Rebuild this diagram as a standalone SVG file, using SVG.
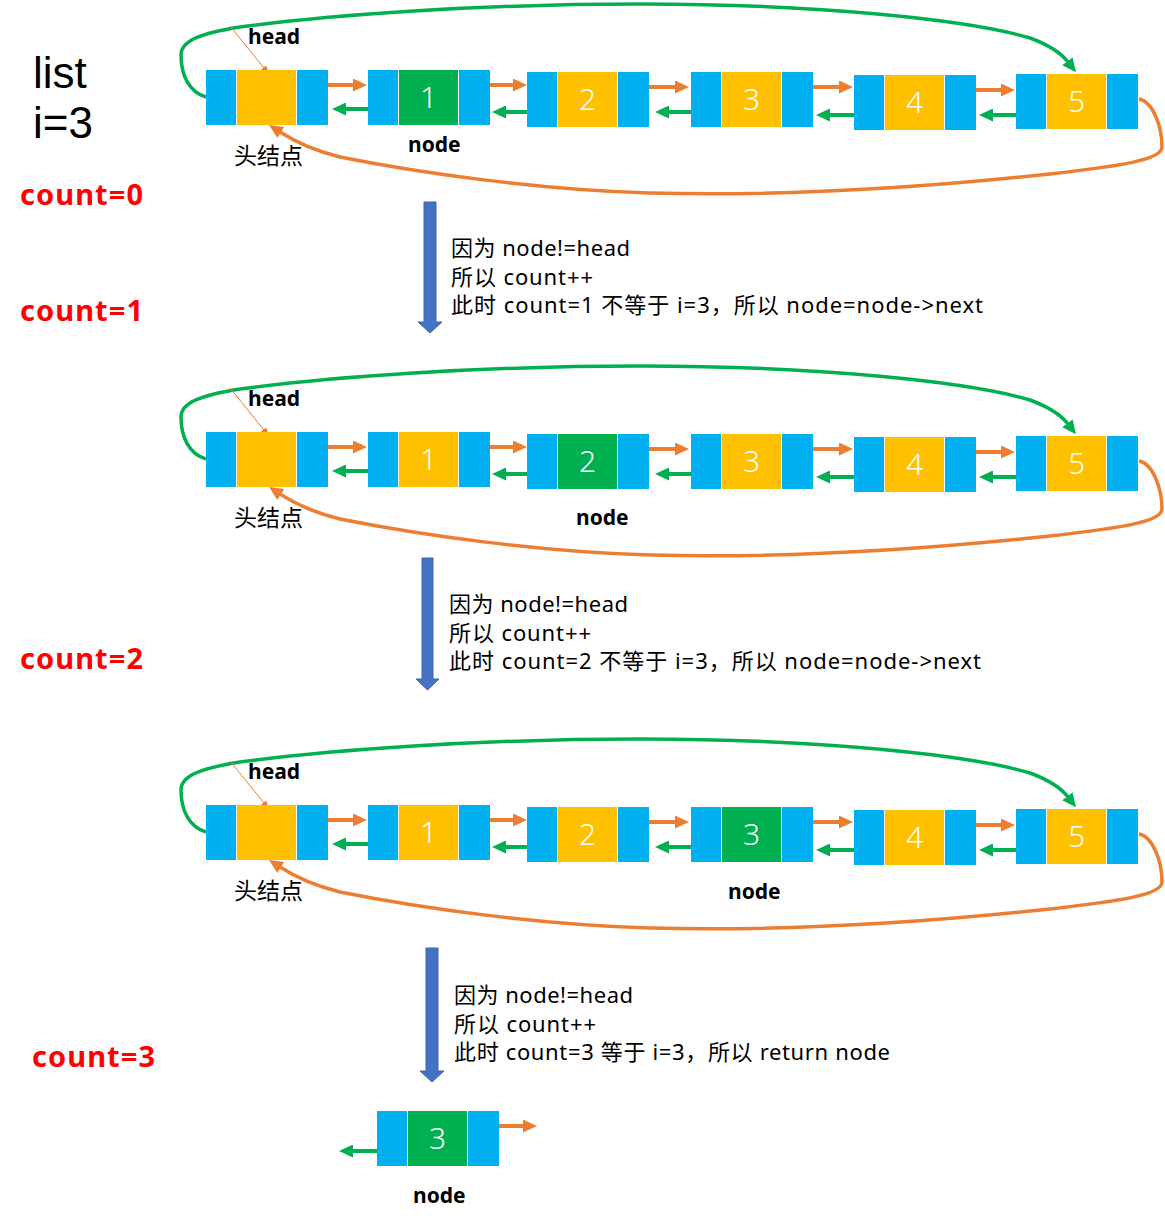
<svg xmlns="http://www.w3.org/2000/svg" xmlns:xlink="http://www.w3.org/1999/xlink" width="1165" height="1225" viewBox="0 0 1165 1225">
<style>
.blue{fill:#00B0F0}
.yel{fill:#FFC000}
.grn{fill:#00B050}
.num{font-family:'Noto Sans','Liberation Sans',sans-serif;font-size:30px;font-weight:300;fill:#fff;text-anchor:middle}
.lbl{font-family:'Noto Sans','Liberation Sans',sans-serif;font-weight:bold;font-size:21px;fill:#000}
.cjk{font-family:'Noto Sans CJK SC',sans-serif;font-size:23px;fill:#000}
.cnt{font-family:'Noto Sans','Liberation Sans',sans-serif;font-weight:bold;font-size:29px;fill:#FF0000}
.big{font-family:'Liberation Sans',sans-serif;font-size:44px;fill:#000}
.body{font-family:'Noto Sans','Noto Sans CJK SC',sans-serif;font-size:22px;fill:#000}
.lo{stroke:#ED7D31;stroke-width:4;fill:none;marker-end:url(#ao)}
.lg{stroke:#00B050;stroke-width:4;fill:none;marker-end:url(#ag)}
.loopg{stroke:#00B050;stroke-width:3.5;fill:none;marker-end:url(#ag)}
.loopo{stroke:#ED7D31;stroke-width:3.5;fill:none;marker-end:url(#ao)}
.ptr{stroke:#ED7D31;stroke-width:1;fill:none;marker-end:url(#ap)}
.down{fill:#4472C4;stroke:#3A64B0;stroke-width:1}
</style>
<defs>
<marker id="ao" viewBox="0 0 14 13" refX="1" refY="6.5" markerWidth="14" markerHeight="13" markerUnits="userSpaceOnUse" orient="auto"><path d="M0,0 L14,6.5 L0,13 Z" fill="#ED7D31"/></marker>
<marker id="ag" viewBox="0 0 14 13" refX="1" refY="6.5" markerWidth="14" markerHeight="13" markerUnits="userSpaceOnUse" orient="auto"><path d="M0,0 L14,6.5 L0,13 Z" fill="#00B050"/></marker>
<marker id="ap" viewBox="0 0 8 7" refX="7" refY="3.5" markerWidth="8" markerHeight="7" markerUnits="userSpaceOnUse" orient="auto"><path d="M0,0 L8,3.5 L0,7 Z" fill="#ED7D31"/></marker>
<g id="cellsY"><rect class="blue" x="0" y="0" width="30" height="55"/><rect class="yel" x="31" y="0" width="59" height="55"/><rect class="blue" x="91" y="0" width="31" height="55"/></g>
<g id="cellsG"><rect class="blue" x="0" y="0" width="30" height="55"/><rect class="grn" x="31" y="0" width="59" height="55"/><rect class="blue" x="91" y="0" width="31" height="55"/></g>
<g id="links">
<line class="lo" x1="299" y1="85" x2="354" y2="85"/>
<line class="lo" x1="461" y1="85" x2="514" y2="85"/>
<line class="lo" x1="621" y1="87" x2="676" y2="87"/>
<line class="lo" x1="785" y1="87" x2="840" y2="87"/>
<line class="lo" x1="947" y1="90" x2="1002" y2="90"/>
<line class="lg" x1="396" y1="109" x2="345" y2="109"/>
<line class="lg" x1="557" y1="112" x2="505" y2="112"/>
<line class="lg" x1="718" y1="112" x2="668" y2="112"/>
<line class="lg" x1="881" y1="115" x2="829" y2="115"/>
<line class="lg" x1="1044" y1="115" x2="992" y2="115"/>
<path class="loopg" d="M206,97 C189,92 181,75 181,55 C181,42 196,34 240,27 C330,15 480,4 640,4 C820,4 970,20 1030,38 C1049,45 1061,53 1068,62"/>
<path class="loopo" d="M1139,99 C1152,101 1162,125 1162,147 C1162,160 1120,166 1050,174 C900,190 760,196 650,193 C540,190 420,173 340,157 C316,151 297,143 280,132"/>
<line class="ptr" x1="230" y1="26" x2="268" y2="73"/>
</g>
</defs>

<g id="connectors">
<use xlink:href="#links"/>
<use xlink:href="#links" transform="translate(0,362)"/>
<use xlink:href="#links" transform="translate(0,735)"/>
<line class="lo" x1="470" y1="1126" x2="524" y2="1126"/>
<line class="lg" x1="403" y1="1151" x2="352" y2="1151"/>
<path class="down" d="M424,202 H436 V322 H442 L430,333 L418,322 H424 Z"/>
<path class="down" d="M422,558 H433 V679 H439 L427.5,690 L416,679 H422 Z"/>
<path class="down" d="M426,948 H438 V1071 H444 L432,1082 L420,1071 H426 Z"/>
</g>

<g id="labels">
<text class="big" x="33" y="88">list</text>
<text class="big" x="33" y="138">i=3</text>
<text class="cnt" x="20" y="205" textLength="123" lengthAdjust="spacing">count=0</text>
<text class="cnt" x="20" y="321" textLength="123" lengthAdjust="spacing">count=1</text>
<text class="cnt" x="20" y="669" textLength="123" lengthAdjust="spacing">count=2</text>
<text class="cnt" x="32" y="1067" textLength="123" lengthAdjust="spacing">count=3</text>
</g>

<!-- Row 1 -->
<g id="row1">
<g id="r1-head" transform="translate(206,70)"><use xlink:href="#cellsY"/></g>
<g id="r1-n1" transform="translate(368,70)"><use xlink:href="#cellsG"/><text class="num" x="60.5" y="38">1</text></g>
<g id="r1-n2" transform="translate(527,72)"><use xlink:href="#cellsY"/><text class="num" x="60.5" y="38">2</text></g>
<g id="r1-n3" transform="translate(691,72)"><use xlink:href="#cellsY"/><text class="num" x="60.5" y="38">3</text></g>
<g id="r1-n4" transform="translate(854,75)"><use xlink:href="#cellsY"/><text class="num" x="60.5" y="38">4</text></g>
<g id="r1-n5" transform="translate(1016,74)"><use xlink:href="#cellsY"/><text class="num" x="60.5" y="38">5</text></g>
<text class="lbl" x="248" y="44">head</text>
<text class="cjk" x="234" y="164">头结点</text>
<text class="lbl" x="408" y="152">node</text>
</g>

<g id="step1">
<text class="body" x="451" y="256" textLength="179" lengthAdjust="spacing">因为 node!=head</text>
<text class="body" x="451" y="285" textLength="142" lengthAdjust="spacing">所以 count++</text>
<text class="body" x="451" y="313" textLength="532" lengthAdjust="spacing">此时 count=1 不等于 i=3，所以 node=node-&gt;next</text>
</g>

<!-- Row 2 -->
<g id="row2">
<g id="r2-head" transform="translate(206,432)"><use xlink:href="#cellsY"/></g>
<g id="r2-n1" transform="translate(368,432)"><use xlink:href="#cellsY"/><text class="num" x="60.5" y="38">1</text></g>
<g id="r2-n2" transform="translate(527,434)"><use xlink:href="#cellsG"/><text class="num" x="60.5" y="38">2</text></g>
<g id="r2-n3" transform="translate(691,434)"><use xlink:href="#cellsY"/><text class="num" x="60.5" y="38">3</text></g>
<g id="r2-n4" transform="translate(854,437)"><use xlink:href="#cellsY"/><text class="num" x="60.5" y="38">4</text></g>
<g id="r2-n5" transform="translate(1016,436)"><use xlink:href="#cellsY"/><text class="num" x="60.5" y="38">5</text></g>
<text class="lbl" x="248" y="406">head</text>
<text class="cjk" x="234" y="526">头结点</text>
<text class="lbl" x="576" y="525">node</text>
</g>

<g id="step2">
<text class="body" x="449" y="612" textLength="179" lengthAdjust="spacing">因为 node!=head</text>
<text class="body" x="449" y="641" textLength="142" lengthAdjust="spacing">所以 count++</text>
<text class="body" x="449" y="669" textLength="532" lengthAdjust="spacing">此时 count=2 不等于 i=3，所以 node=node-&gt;next</text>
</g>

<!-- Row 3 -->
<g id="row3">
<g id="r3-head" transform="translate(206,805)"><use xlink:href="#cellsY"/></g>
<g id="r3-n1" transform="translate(368,805)"><use xlink:href="#cellsY"/><text class="num" x="60.5" y="38">1</text></g>
<g id="r3-n2" transform="translate(527,807)"><use xlink:href="#cellsY"/><text class="num" x="60.5" y="38">2</text></g>
<g id="r3-n3" transform="translate(691,807)"><use xlink:href="#cellsG"/><text class="num" x="60.5" y="38">3</text></g>
<g id="r3-n4" transform="translate(854,810)"><use xlink:href="#cellsY"/><text class="num" x="60.5" y="38">4</text></g>
<g id="r3-n5" transform="translate(1016,809)"><use xlink:href="#cellsY"/><text class="num" x="60.5" y="38">5</text></g>
<text class="lbl" x="248" y="779">head</text>
<text class="cjk" x="234" y="899">头结点</text>
<text class="lbl" x="728" y="899">node</text>
</g>

<g id="step3">
<text class="body" x="454" y="1003" textLength="179" lengthAdjust="spacing">因为 node!=head</text>
<text class="body" x="454" y="1032" textLength="142" lengthAdjust="spacing">所以 count++</text>
<text class="body" x="454" y="1060" textLength="436" lengthAdjust="spacing">此时 count=3 等于 i=3，所以 return node</text>
</g>

<g id="result">
<g id="res-node" transform="translate(377,1111)"><use xlink:href="#cellsG"/><text class="num" x="60.5" y="38">3</text></g>
<text class="lbl" x="413" y="1203">node</text>
</g>
</svg>
